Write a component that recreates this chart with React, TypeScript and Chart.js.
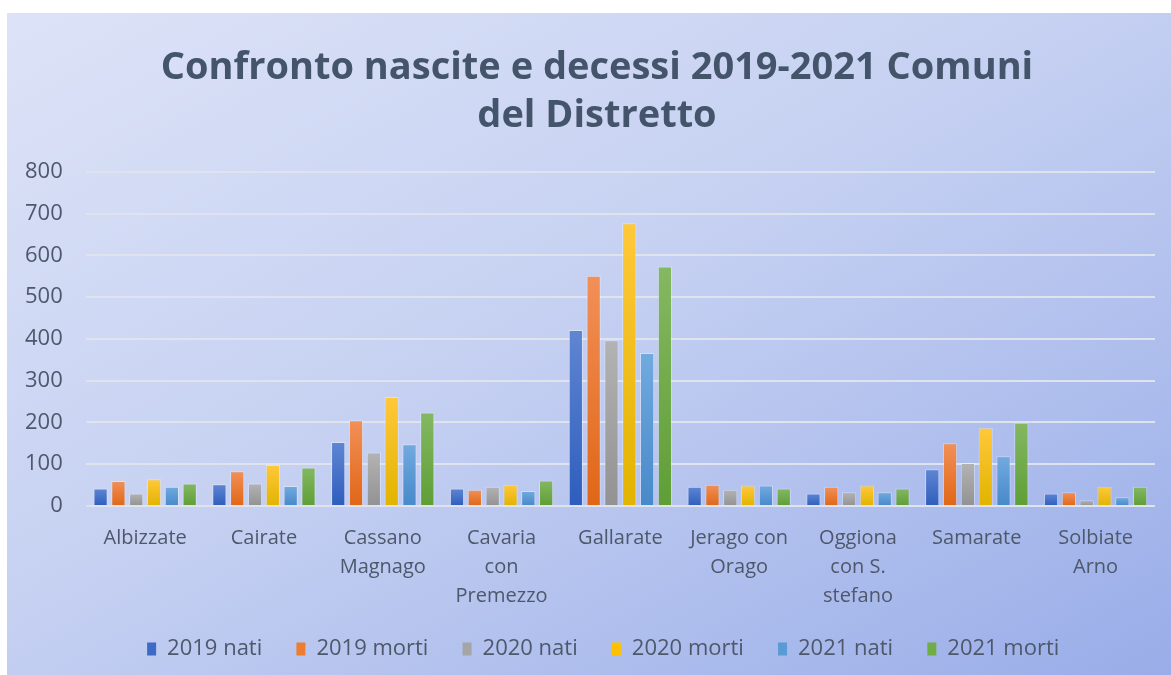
import React, { useEffect, useRef } from "react";
import { Chart, registerables } from "chart.js";

Chart.register(...registerables);

const categories: (string | string[])[] = [
  "Albizzate",
  "Cairate",
  ["Cassano", "Magnago"],
  ["Cavaria", "con", "Premezzo"],
  "Gallarate",
  ["Jerago con", "Orago"],
  ["Oggiona", "con S.", "stefano"],
  "Samarate",
  ["Solbiate", "Arno"],
];

const nati2019 = [42, 52, 153, 42, 421, 46, 30, 88, 30];
const morti2019 = [60, 83, 205, 39, 551, 51, 46, 150, 33];
const nati2020 = [30, 54, 128, 46, 397, 39, 33, 103, 14];
const morti2020 = [64, 98, 261, 51, 677, 49, 49, 187, 46];
const nati2021 = [46, 48, 148, 36, 366, 49, 33, 119, 21];
const morti2021 = [54, 92, 224, 61, 573, 42, 42, 199, 46];

const seriesLabels = ["2019 nati", "2019 morti", "2020 nati", "2020 morti", "2021 nati", "2021 morti"];
const yTicks = [0, 100, 200, 300, 400, 500, 600, 700, 800];

const palette = [
  { top: "#5f86d2", bottom: "#2e5dbd", solid: "#3e6ac5" },
  { top: "#f29058", bottom: "#e06616", solid: "#ed7d31" },
  { top: "#b3b3b3", bottom: "#929292", solid: "#a5a5a5" },
  { top: "#ffc83a", bottom: "#e2b300", solid: "#ffc000" },
  { top: "#71aadf", bottom: "#4789ca", solid: "#5b9bd5" },
  { top: "#84b862", bottom: "#5f9e36", solid: "#70ad47" },
];

const FONT = "'Open Sans', 'DejaVu Sans', sans-serif";

export default function App() {
  const ref = useRef<HTMLCanvasElement | null>(null);

  useEffect(() => {
    if (!ref.current) return;
    const all = [nati2019, morti2019, nati2020, morti2020, nati2021, morti2021];
    const datasets = all.map((data, i) => ({
      label: seriesLabels[i],
      data,
      backgroundColor: (c: any) => {
        const chart = c.chart;
        const p = palette[i];
        if (!chart.chartArea || !chart.scales?.y || c.raw == null) return p.solid;
        const y = chart.scales.y;
        const top = y.getPixelForValue(c.raw);
        const base = y.getPixelForValue(0);
        if (!isFinite(top) || !isFinite(base) || base - top < 1) return p.solid;
        const g = chart.ctx.createLinearGradient(0, top, 0, base);
        g.addColorStop(0, p.top);
        g.addColorStop(1, p.bottom);
        return g;
      },
      borderColor: "rgba(255,255,255,0.35)",
      borderWidth: 1,
      categoryPercentage: 0.9,
      barPercentage: 0.8,
    }));

    const chart = new Chart(ref.current, {
      type: "bar",
      data: { labels: categories as any, datasets: datasets as any },
      options: {
        animation: false,
        responsive: true,
        maintainAspectRatio: false,
        layout: { padding: { left: -5, right: 0, top: 0, bottom: 5 } },
        plugins: {
          title: {
            display: true,
            text: ["Confronto nascite e decessi 2019-2021 Comuni", "del Distretto"],
            color: "#44546a",
            font: { family: FONT, size: 38, weight: "bold", lineHeight: 1.26 },
            padding: { top: 31, bottom: 32 },
          },
          legend: {
            position: "bottom",
            fullSize: false,
            labels: {
              color: "#4e586b",
              font: { family: FONT, size: 22 },
              boxWidth: 9,
              boxHeight: 13,
              padding: 17,
              generateLabels: () =>
                seriesLabels.map((l, i) => ({
                  text: l + (i === seriesLabels.length - 1 ? "      " : "   "),
                  fillStyle: palette[i].solid,
                  strokeStyle: palette[i].solid,
                  lineWidth: 0,
                  hidden: false,
                  datasetIndex: i,
                  fontColor: "#4e586b",
                })),
            },
          },
          tooltip: { enabled: false },
        },
        scales: {
          x: {
            grid: { display: false },
            border: { display: false },
            ticks: {
              color: "#4e586b",
              font: { family: FONT, size: 20, lineHeight: 1.45 },
              padding: 10,
              maxRotation: 0,
              autoSkip: false,
            },
          },
          y: {
            min: 0,
            max: 800,
            afterBuildTicks: (s: any) => {
              s.ticks = yTicks.map((v) => ({ value: v }));
            },
            grid: { color: "#dfe3ee", lineWidth: 2, drawTicks: false },
            border: { display: false },
            ticks: {
              color: "#4e586b",
              font: { family: FONT, size: 22 },
              padding: 23,
            },
          },
          spacer: {
            type: "linear",
            position: "right",
            display: true,
            grid: { display: false, drawTicks: false },
            border: { display: false },
            ticks: { display: false },
            afterFit: (s: any) => {
              s.width = 37;
            },
          },
        },
      },
    });
    return () => chart.destroy();
  }, []);

  return (
    <div
      style={{
        position: "fixed",
        left: 7,
        top: 13,
        width: 1164,
        height: 662,
        overflow: "hidden",
      }}
    >
      <div
        style={{
          width: 1185,
          height: 662,
          background: "linear-gradient(to bottom right, #dde3f7 0%, #c6d1f2 45%, #98ace8 100%)",
        }}
      >
        <canvas ref={ref} />
      </div>
    </div>
  );
}
